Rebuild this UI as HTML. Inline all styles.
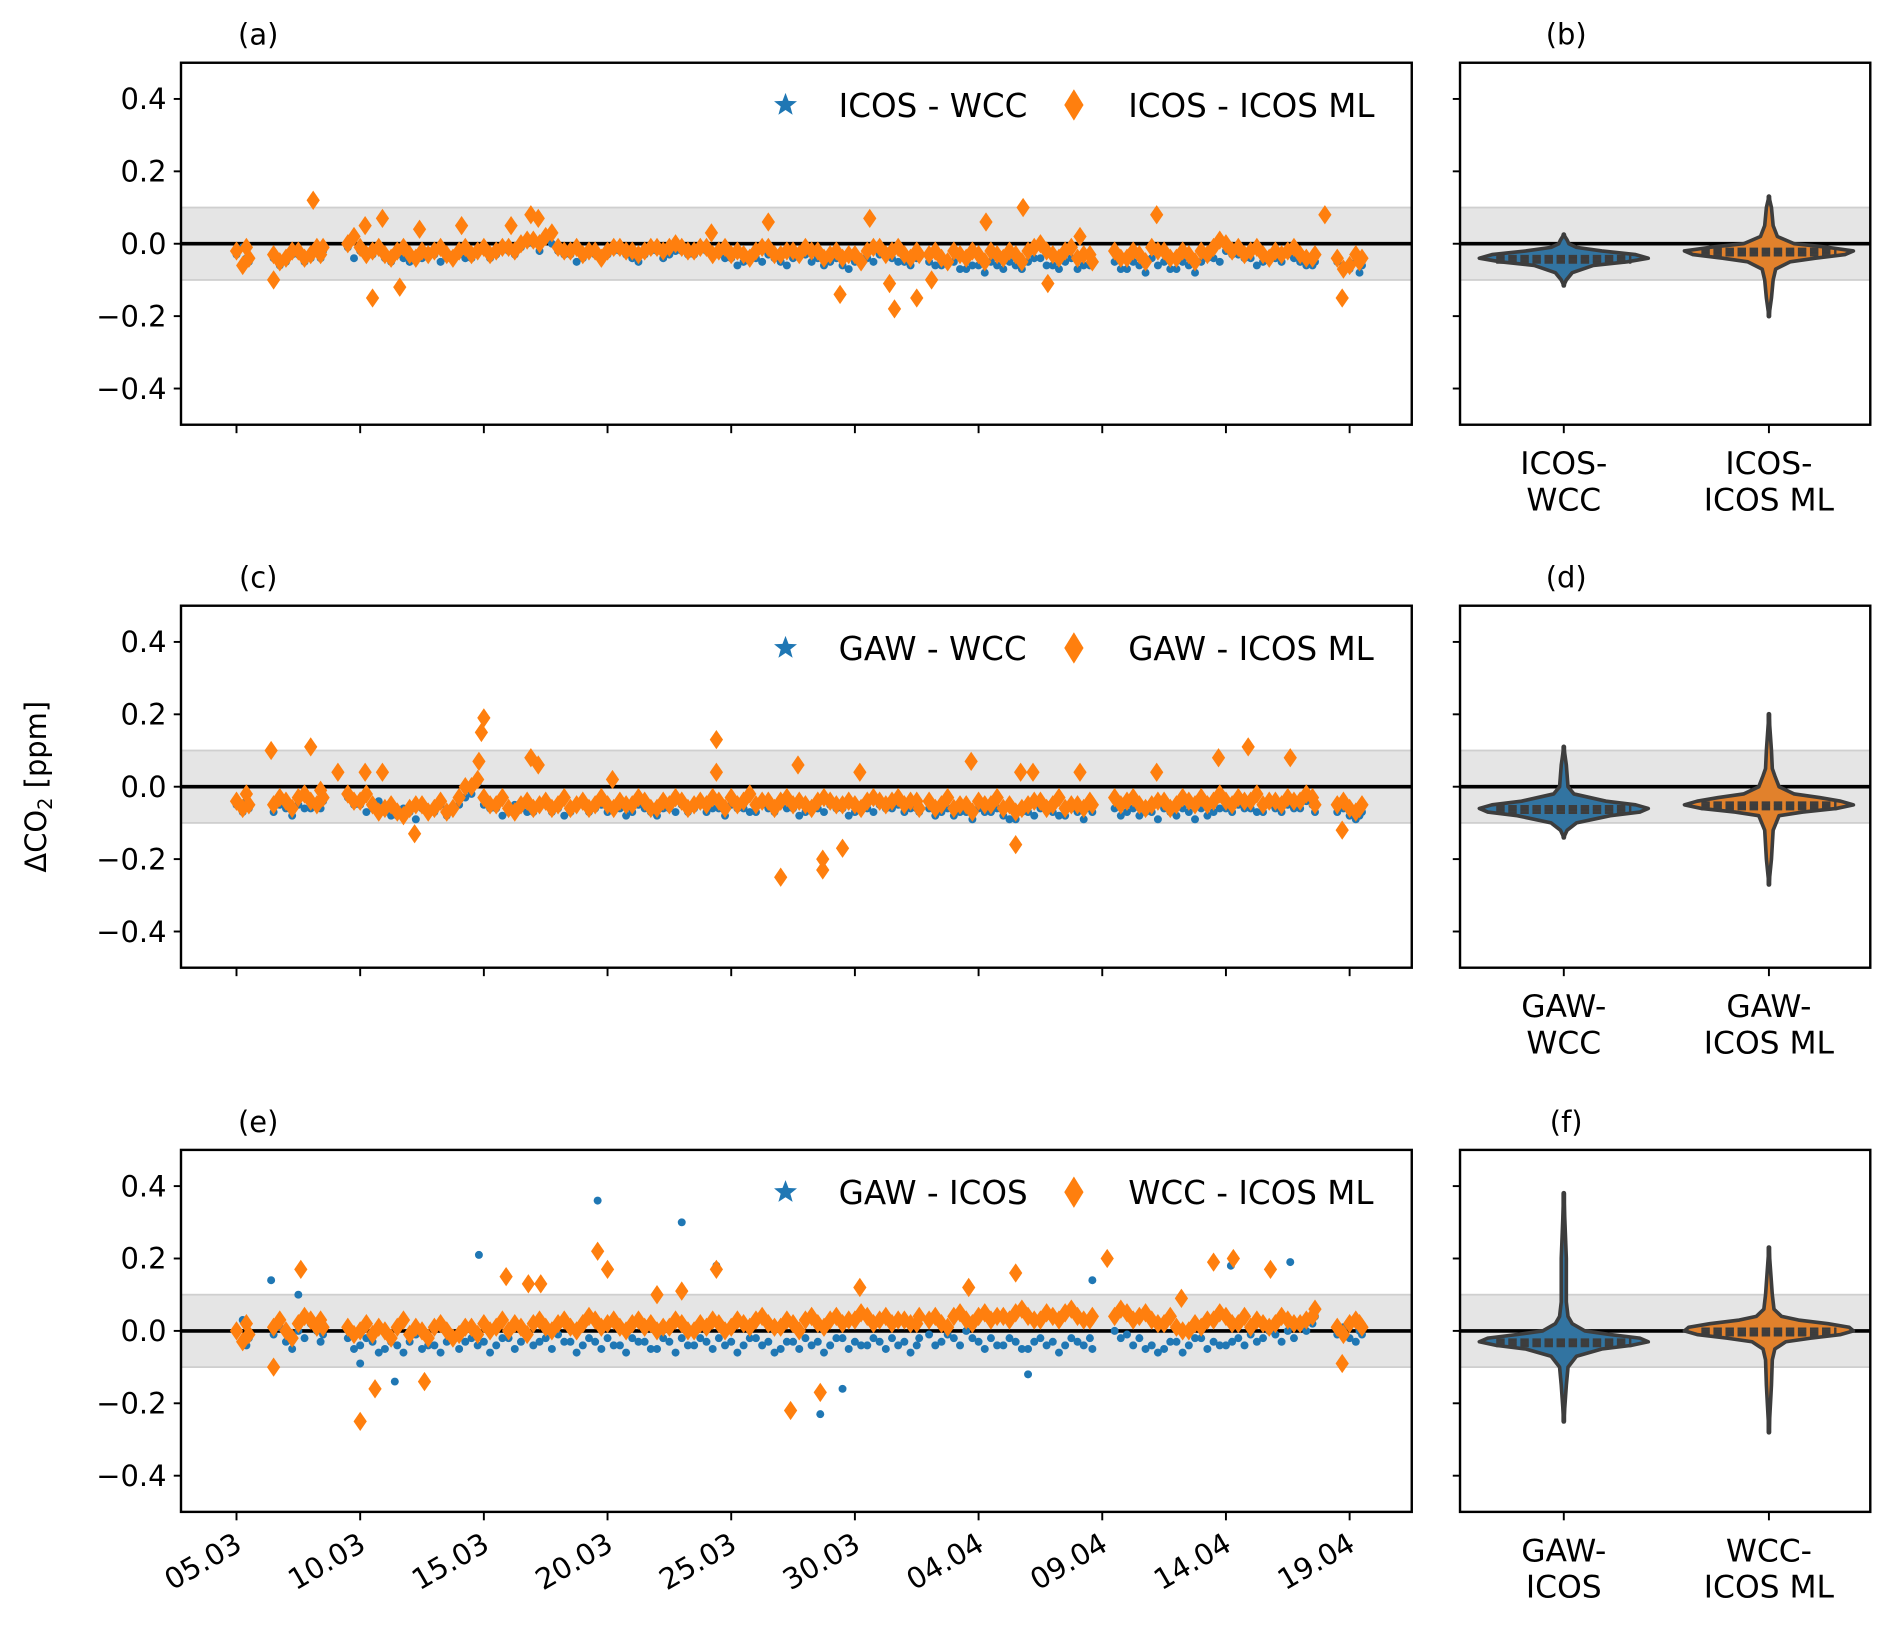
<!DOCTYPE html>
<html><head><meta charset="utf-8"><style>
html,body{margin:0;padding:0;background:#fff}
svg{display:block}
text{font-family:"DejaVu Sans","Liberation Sans",sans-serif;fill:#000}
</style></head><body>
<svg id="chart" width="1892" height="1627" viewBox="0 0 1568 1348.4" preserveAspectRatio="none" xmlns="http://www.w3.org/2000/svg">
<g id="root"></g>
</svg>
<script>
// ---------- data ----------
const times = [0,0.5, 1.5,2,2.5,3,3.5,
4.5,5,5.5,6,6.5,7,7.5,8,8.5,9,9.5,10,10.5,11,11.5,12,12.5,13,13.5,14,14.5,15,15.5,16,16.5,17,17.5,18,18.5,19,19.5,20,20.5,21,21.5,22,22.5,23,23.5,24,24.5,25,25.5,26,26.5,27,27.5,
28,28.5,29,29.5,30,30.5,31,31.5,32,32.5,33,33.5,34,34.5,
35.5,36,36.5,37,37.5,38,38.5,39,39.5,40,40.5,41,41.5,42,42.5,43,43.5,
44.5,45,45.5];
const times2 = [0.25,0.4, 1.75,2.25,2.75,3.25,3.4,
4.75,5.25,5.75,6.25,6.75,7.25,7.75,8.25,8.75,9.25,9.75,10.25,10.75,11.25,11.75,12.25,12.75,13.25,13.75,14.25,14.75,15.25,15.75,16.25,16.75,17.25,17.75,18.25,18.75,19.25,19.75,20.25,20.75,21.25,21.75,22.25,22.75,23.25,23.75,24.25,24.75,25.25,25.75,26.25,26.75,27.25,27.6,
28.25,28.75,29.25,29.75,30.25,30.75,31.25,31.75,32.25,32.75,33.25,33.75,34.25,34.6,
35.75,36.25,36.75,37.25,37.75,38.25,38.75,39.25,39.75,40.25,40.75,41.25,41.75,42.25,42.75,43.25,43.6,
44.75,45.25,45.4];
const aBlue = [-0.03,-0.05, -0.04,-0.05,-0.03,-0.04,-0.02,
-0.01,-0.02,-0.03,-0.04,-0.03,-0.05,-0.04,-0.03,-0.04,-0.03,-0.04,-0.02,-0.03,-0.02,-0.01,0.0,0.01,-0.02,-0.03,-0.04,-0.03,-0.03,-0.02,-0.04,-0.03,-0.02,-0.03,-0.02,-0.03,-0.02,-0.03,-0.04,-0.05,-0.04,-0.03,-0.05,-0.04,-0.03,-0.04,-0.05,-0.06,-0.05,-0.04,-0.03,-0.04,-0.05,-0.04,
-0.05,-0.06,-0.05,-0.07,-0.06,-0.05,-0.07,-0.06,-0.05,-0.04,-0.06,-0.05,-0.07,-0.06,
-0.05,-0.07,-0.06,-0.04,-0.05,-0.07,-0.06,-0.05,-0.04,-0.02,-0.03,-0.04,-0.05,-0.04,-0.03,-0.05,-0.06,
-0.05,-0.07,-0.06];
const aBlue2 = [-0.01,-0.04, -0.06,-0.03,-0.05,-0.02,-0.04,
-0.04,-0.03,-0.01,-0.05,-0.04,-0.03,-0.02,-0.05,-0.03,-0.04,-0.02,-0.04,-0.01,-0.03,0.0,-0.02,0.0,-0.03,-0.05,-0.02,-0.04,-0.02,-0.03,-0.05,-0.02,-0.04,-0.02,-0.03,-0.01,-0.03,-0.04,-0.06,-0.03,-0.05,-0.04,-0.06,-0.03,-0.05,-0.06,-0.04,-0.07,-0.04,-0.05,-0.02,-0.05,-0.06,-0.03,
-0.06,-0.05,-0.07,-0.06,-0.08,-0.06,-0.05,-0.07,-0.04,-0.06,-0.07,-0.04,-0.06,-0.05,
-0.07,-0.05,-0.08,-0.06,-0.07,-0.05,-0.08,-0.04,-0.05,-0.03,-0.04,-0.06,-0.04,-0.05,-0.04,-0.06,-0.05,
-0.06,-0.05,-0.08];
const aOrange = [-0.02,-0.04, -0.03,-0.04,-0.02,-0.03,-0.01,
0.0,-0.01,-0.02,-0.03,-0.02,-0.03,-0.02,-0.02,-0.03,-0.02,-0.03,-0.01,-0.02,-0.01,0.0,0.01,0.02,-0.01,-0.02,-0.03,-0.02,-0.02,-0.01,-0.02,-0.02,-0.01,-0.01,-0.01,-0.02,-0.01,-0.02,-0.03,-0.03,-0.02,-0.01,-0.03,-0.02,-0.01,-0.02,-0.03,-0.04,-0.03,-0.02,-0.01,-0.02,-0.03,-0.02,
-0.03,-0.04,-0.02,-0.04,-0.03,-0.02,-0.04,-0.03,-0.02,0.0,-0.03,-0.02,-0.04,-0.03,
-0.02,-0.04,-0.03,-0.01,-0.02,-0.04,-0.03,-0.02,-0.01,0.0,-0.01,-0.02,-0.03,-0.02,-0.02,-0.03,-0.04,
-0.04,-0.06,-0.04];
const aOrange2 = [-0.06,-0.01, -0.05,-0.02,-0.04,-0.01,-0.03,
0.02,-0.03,-0.01,-0.04,-0.01,-0.04,-0.03,-0.01,-0.04,-0.01,-0.02,-0.03,-0.01,-0.02,0.01,0.0,0.03,-0.02,-0.01,-0.02,-0.04,-0.01,-0.02,-0.03,-0.01,-0.02,0.0,-0.02,-0.01,-0.03,-0.01,-0.02,-0.04,-0.01,-0.03,-0.02,-0.03,-0.02,-0.04,-0.02,-0.03,-0.05,-0.01,-0.03,-0.01,-0.04,-0.03,
-0.02,-0.05,-0.03,-0.02,-0.05,-0.03,-0.02,-0.05,-0.01,-0.02,-0.04,-0.01,-0.03,-0.05,
-0.04,-0.02,-0.05,-0.02,-0.04,-0.02,-0.05,-0.03,0.01,-0.02,-0.03,-0.01,-0.04,-0.03,-0.01,-0.04,-0.03,
-0.07,-0.03,-0.05];
const aOutT = [1.5,3.1,5.2,5.5,5.9,6.6,7.4,9.1,11.1,11.9,12.2,19.2,21.5,24.4,25.6,26.4,26.6,27.5,28.1,30.3,31.8,32.8,34.1,37.2,44.0,44.7];
const aOutV = [-0.1,0.12,0.05,-0.15,0.07,-0.12,0.04,0.05,0.05,0.08,0.07,0.03,0.06,-0.14,0.07,-0.11,-0.18,-0.15,-0.1,0.06,0.1,-0.11,0.02,0.08,0.08,-0.15];

const cBlue = [-0.05,-0.06, -0.07,-0.06,-0.05,-0.06,-0.04,
-0.03,-0.05,-0.06,-0.07,-0.08,-0.07,-0.06,-0.07,-0.08,-0.05,-0.02,-0.05,-0.06,-0.07,-0.06,-0.07,-0.05,-0.06,-0.07,-0.05,-0.06,-0.07,-0.06,-0.07,-0.06,-0.08,-0.06,-0.05,-0.06,-0.07,-0.06,-0.05,-0.06,-0.07,-0.06,-0.05,-0.06,-0.07,-0.06,-0.05,-0.06,-0.07,-0.06,-0.05,-0.06,-0.07,-0.06,
-0.06,-0.07,-0.08,-0.07,-0.06,-0.07,-0.08,-0.09,-0.07,-0.06,-0.07,-0.08,-0.07,-0.06,
-0.06,-0.07,-0.08,-0.07,-0.06,-0.08,-0.07,-0.06,-0.07,-0.06,-0.05,-0.06,-0.07,-0.06,-0.05,-0.06,-0.05,
-0.07,-0.08,-0.07];
const cBlue2 = [-0.07,-0.04, -0.05,-0.08,-0.06,-0.04,-0.06,
-0.05,-0.07,-0.04,-0.08,-0.06,-0.09,-0.07,-0.05,-0.06,-0.03,0.01,-0.06,-0.08,-0.05,-0.07,-0.05,-0.07,-0.08,-0.05,-0.07,-0.05,-0.06,-0.08,-0.05,-0.07,-0.06,-0.07,-0.07,-0.05,-0.06,-0.08,-0.06,-0.07,-0.05,-0.07,-0.06,-0.08,-0.05,-0.07,-0.06,-0.08,-0.05,-0.07,-0.06,-0.05,-0.06,-0.07,
-0.08,-0.06,-0.07,-0.09,-0.07,-0.06,-0.09,-0.07,-0.08,-0.05,-0.08,-0.06,-0.09,-0.07,
-0.08,-0.06,-0.07,-0.09,-0.07,-0.06,-0.09,-0.08,-0.06,-0.07,-0.06,-0.07,-0.05,-0.07,-0.06,-0.04,-0.07,
-0.06,-0.09,-0.08];
const cOrange = [-0.04,-0.05, -0.05,-0.04,-0.03,-0.04,-0.03,
-0.02,-0.04,-0.05,-0.06,-0.07,-0.06,-0.05,-0.06,-0.07,-0.03,0.0,-0.03,-0.05,-0.06,-0.05,-0.06,-0.04,-0.05,-0.06,-0.04,-0.05,-0.05,-0.04,-0.05,-0.04,-0.06,-0.05,-0.04,-0.05,-0.05,-0.04,-0.03,-0.04,-0.05,-0.04,-0.04,-0.05,-0.05,-0.04,-0.04,-0.05,-0.05,-0.04,-0.04,-0.04,-0.05,-0.04,
-0.04,-0.05,-0.06,-0.05,-0.04,-0.05,-0.06,-0.07,-0.05,-0.04,-0.05,-0.06,-0.05,-0.04,
-0.03,-0.04,-0.05,-0.05,-0.04,-0.05,-0.04,-0.03,-0.04,-0.04,-0.03,-0.04,-0.05,-0.04,-0.03,-0.04,-0.03,
-0.05,-0.06,-0.05];
const cOrange2 = [-0.06,-0.02, -0.03,-0.06,-0.02,-0.05,-0.01,
-0.04,-0.02,-0.07,-0.05,-0.08,-0.05,-0.07,-0.04,-0.06,0.0,0.02,-0.05,-0.03,-0.07,-0.04,-0.05,-0.06,-0.03,-0.05,-0.06,-0.03,-0.06,-0.05,-0.03,-0.06,-0.04,-0.03,-0.06,-0.04,-0.03,-0.06,-0.05,-0.02,-0.04,-0.06,-0.03,-0.04,-0.06,-0.03,-0.05,-0.04,-0.06,-0.03,-0.05,-0.03,-0.04,-0.06,
-0.06,-0.03,-0.05,-0.07,-0.05,-0.03,-0.05,-0.06,-0.04,-0.06,-0.03,-0.05,-0.06,-0.05,
-0.05,-0.03,-0.06,-0.04,-0.06,-0.03,-0.05,-0.05,-0.02,-0.05,-0.04,-0.02,-0.04,-0.05,-0.04,-0.02,-0.05,
-0.04,-0.07,-0.06];
const cOutT = [1.4,3.0,4.1,5.2,5.9,7.2,9.8,9.9,10.0,11.9,12.2,15.2,19.4,19.4,22.0,22.7,23.7,23.7,24.5,25.2,29.7,31.5,31.7,32.2,34.1,37.2,39.7,40.9,42.6,44.7];
const cOutV = [0.1,0.11,0.04,0.04,0.04,-0.13,0.07,0.15,0.19,0.08,0.06,0.02,0.13,0.04,-0.25,0.06,-0.23,-0.2,-0.17,0.04,0.07,-0.16,0.04,0.04,0.04,0.04,0.08,0.11,0.08,-0.12];

const eBlue = [0.0,-0.02, -0.01,-0.03,0.0,0.02,-0.01,
-0.02,-0.04,-0.03,-0.05,-0.04,-0.03,-0.05,-0.04,-0.03,-0.05,-0.02,-0.03,-0.04,-0.02,-0.03,-0.04,-0.02,-0.01,-0.03,-0.04,-0.03,-0.02,-0.04,-0.02,-0.03,-0.05,-0.03,-0.02,-0.04,-0.03,-0.02,-0.03,-0.04,-0.02,-0.03,-0.05,-0.03,-0.02,-0.03,-0.04,-0.02,-0.03,-0.04,-0.03,-0.02,-0.03,-0.04,
-0.01,-0.03,-0.02,0.0,-0.03,-0.02,-0.04,-0.03,-0.05,-0.02,-0.03,-0.04,-0.03,-0.02,
0.0,-0.01,-0.02,-0.04,-0.05,-0.03,-0.04,-0.02,-0.03,-0.04,-0.02,-0.01,-0.02,-0.01,0.0,0.01,0.02,
-0.01,-0.02,-0.01];
const eBlue2 = [0.03,-0.04, 0.01,-0.05,-0.02,0.0,-0.03,
-0.05,-0.02,-0.06,-0.03,-0.06,-0.01,-0.04,-0.06,-0.02,-0.03,-0.04,-0.06,-0.02,-0.05,-0.01,-0.03,-0.05,-0.03,-0.06,-0.02,-0.05,-0.04,-0.06,-0.03,-0.05,-0.02,-0.06,-0.04,-0.02,-0.05,-0.04,-0.06,-0.02,-0.04,-0.06,-0.03,-0.05,-0.04,-0.06,-0.02,-0.05,-0.04,-0.02,-0.05,-0.04,-0.06,-0.02,
-0.04,-0.01,-0.04,-0.02,-0.05,-0.04,-0.02,-0.05,-0.03,-0.04,-0.06,-0.02,-0.04,-0.05,
-0.02,-0.04,-0.05,-0.06,-0.03,-0.06,-0.02,-0.05,-0.04,-0.03,-0.04,-0.03,0.0,-0.03,-0.02,0.0,0.04,
0.01,-0.03,0.0];
const eOrange = [0.0,-0.01, 0.01,0.0,0.02,0.03,0.01,
0.01,0.0,-0.01,0.0,0.01,-0.01,0.0,0.01,0.0,-0.01,0.01,0.02,0.01,0.0,0.01,0.02,0.01,0.02,0.01,0.02,0.03,0.02,0.01,0.02,0.01,0.0,0.01,0.02,0.0,0.01,0.02,0.01,0.02,0.03,0.02,0.01,0.02,0.03,0.02,0.03,0.02,0.03,0.04,0.03,0.02,0.03,0.02,
0.03,0.02,0.04,0.03,0.04,0.03,0.04,0.05,0.04,0.03,0.04,0.05,0.04,0.03,
0.04,0.05,0.04,0.03,0.02,0.01,0.0,0.01,0.03,0.04,0.02,0.01,0.02,0.02,0.03,0.02,0.04,
0.01,0.02,0.01];
const eOrange2 = [-0.03,0.02, 0.03,-0.02,0.04,0.01,0.03,
-0.01,0.02,0.01,-0.02,0.03,0.01,-0.02,0.02,-0.02,0.01,-0.01,0.0,0.03,0.02,-0.01,0.03,0.0,0.03,0.0,0.04,0.01,0.03,0.0,0.03,0.02,0.01,0.03,0.0,0.02,0.03,0.0,0.03,0.01,0.04,0.01,0.03,0.0,0.04,0.01,0.04,0.03,0.05,0.02,0.04,0.03,0.02,0.04,
0.04,0.01,0.05,0.02,0.05,0.04,0.03,0.06,0.03,0.05,0.03,0.06,0.03,0.04,
0.06,0.03,0.05,0.02,0.04,0.0,0.02,0.03,0.05,0.02,0.04,0.03,0.01,0.04,0.02,0.03,0.06,
-0.01,0.03,0.02];
const eBOutT = [1.4,2.5,5.0,6.4,9.8,14.6,18.0,19.4,22.4,23.6,24.5,32.0,34.6,40.2,42.6];
const eBOutV = [0.14,0.1,-0.09,-0.14,0.21,0.36,0.3,0.18,-0.22,-0.23,-0.16,-0.12,0.14,0.18,0.19];
const eOOutT = [1.5,2.6,5.0,5.6,7.6,10.9,11.8,12.3,14.6,15.0,17.0,18.0,19.4,22.4,23.6,25.2,29.6,31.5,35.2,38.2,39.5,40.3,41.8,44.7];
const eOOutV = [-0.1,0.17,-0.25,-0.16,-0.14,0.15,0.13,0.13,0.22,0.17,0.1,0.11,0.17,-0.22,-0.17,0.12,0.12,0.16,0.2,0.09,0.19,0.2,0.17,-0.09];

const xTickDays = [0,5,10,15,20,25,30,35,40,45];
const xTickLabels = ["05.03","10.03","15.03","20.03","25.03","30.03","04.04","09.04","14.04","19.04"];
const yTicks = [-0.4,-0.2,0.0,0.2,0.4];
const yTickLabels = ["\u22120.4","\u22120.2","0.0","0.2","0.4"];

const vbBlueY = [-0.115,-0.1,-0.08,-0.06,-0.05,-0.04,-0.03,-0.02,-0.01,0,0.01,0.025];
const vbBlueD = [0,0.03,0.1,0.35,0.75,1,0.85,0.45,0.15,0.06,0.04,0];
const vbOrY = [-0.2,-0.15,-0.1,-0.07,-0.05,-0.04,-0.03,-0.02,-0.01,0,0.02,0.05,0.1,0.13];
const vbOrD = [0,0.03,0.05,0.08,0.25,0.55,0.9,1,0.7,0.3,0.1,0.05,0.03,0];
const vdBlueY = [-0.14,-0.12,-0.1,-0.08,-0.07,-0.06,-0.05,-0.04,-0.02,0,0.03,0.06,0.11];
const vdBlueD = [0,0.04,0.15,0.55,0.9,1,0.85,0.5,0.12,0.05,0.04,0.03,0];
const vdOrY = [-0.27,-0.2,-0.12,-0.08,-0.07,-0.06,-0.05,-0.04,-0.03,-0.02,0,0.03,0.05,0.1,0.2];
const vdOrD = [0,0.03,0.05,0.12,0.4,0.8,1,0.85,0.6,0.3,0.12,0.07,0.04,0.03,0];
const vfBlueY = [-0.25,-0.15,-0.1,-0.07,-0.05,-0.04,-0.03,-0.02,-0.01,0,0.02,0.04,0.08,0.2,0.38];
const vfBlueD = [0,0.03,0.05,0.15,0.45,0.8,1,0.9,0.55,0.25,0.1,0.05,0.03,0.03,0];
const vfOrY = [-0.28,-0.15,-0.08,-0.05,-0.03,-0.02,-0.01,0,0.01,0.02,0.03,0.04,0.06,0.1,0.23];
const vfOrD = [0,0.03,0.04,0.07,0.2,0.5,0.85,1,0.95,0.7,0.35,0.15,0.06,0.04,0];

// ---------- helpers ----------
const NS = "http://www.w3.org/2000/svg";
const root = document.getElementById("root");
function mk(tag, attrs, parent, txt){
  const e = document.createElementNS(NS, tag);
  for (const k in attrs) e.setAttribute(k, attrs[k]);
  if (txt !== undefined) e.textContent = txt;
  (parent || root).appendChild(e);
  return e;
}
const BLUE = "#1f77b4", ORANGE = "#ff7f0e";
const X0 = 150, X1 = 1170, RX0 = 1210, RX1 = 1550;
const DAY0X = 196, PXDAY = 20.5;
function xScale(d){ return DAY0X + d * PXDAY; }
function makeY(top){ return v => top + 150 - v * 300; }

const panels = [
 {top:52, lab:["(a)","(b)"], leg:["ICOS - WCC","ICOS - ICOS ML"], b:aBlue, b2:aBlue2, o:aOrange, o2:aOrange2, bOT:[], bOV:[], oOT:aOutT, oOV:aOutV,
  vb:[vbBlueY,vbBlueD], vo:[vbOrY,vbOrD], cat:[["ICOS-","WCC"],["ICOS-","ICOS ML"]], key:"ab"},
 {top:502, lab:["(c)","(d)"], leg:["GAW - WCC","GAW - ICOS ML"], b:cBlue, b2:cBlue2, o:cOrange, o2:cOrange2, bOT:[], bOV:[], oOT:cOutT, oOV:cOutV,
  vb:[vdBlueY,vdBlueD], vo:[vdOrY,vdOrD], cat:[["GAW-","WCC"],["GAW-","ICOS ML"]], key:"cd"},
 {top:953, lab:["(e)","(f)"], leg:["GAW - ICOS","WCC - ICOS ML"], b:eBlue, b2:eBlue2, o:eOrange, o2:eOrange2, bOT:eBOutT, bOV:eBOutV, oOT:eOOutT, oOV:eOOutV,
  vb:[vfBlueY,vfBlueD], vo:[vfOrY,vfOrD], cat:[["GAW-","ICOS"],["WCC-","ICOS ML"]], key:"ef"}
];

function diamond(g, x, y){
  const p = mk("path", {d:`M${x},${y-8}L${x+5.5},${y}L${x},${y+8}L${x-5.5},${y}Z`, fill:ORANGE}, g);
  
  
}
function dot(g, x, y){
  const c = mk("circle", {cx:x, cy:y, r:3.3, fill:BLUE}, g);
  
  
}
function star(g, cx, cy, r){
  let d = "";
  for (let i=0;i<10;i++){
    const a = -Math.PI/2 + i*Math.PI/5, rr = i%2 ? r*0.42 : r;
    d += (i?"L":"M") + (cx + rr*Math.cos(a)).toFixed(1) + "," + (cy + rr*Math.sin(a)).toFixed(1);
  }
  return mk("path", {d:d+"Z", fill:BLUE}, g);
}

function drawViolin(g, cx, yS, ys, ds, fill, name){
  const W = 70;
  let right = [], left = [];
  for (let i=0;i<ys.length;i++){
    right.push((cx + ds[i]*W).toFixed(1) + "," + yS(ys[i]).toFixed(1));
    left.unshift((cx - ds[i]*W).toFixed(1) + "," + yS(ys[i]).toFixed(1));
  }
  const vg = mk("g", {}, g);
  
  
  mk("line", {x1:cx, x2:cx, y1:yS(ys[0]), y2:yS(ys[ys.length-1]), stroke:"#3d3d3d", "stroke-width":4, "stroke-linecap":"round"}, vg);
  mk("path", {d:"M"+right.join("L")+"L"+left.join("L")+"Z", fill:fill, stroke:"#3d3d3d", "stroke-width":3, "stroke-linejoin":"round"}, vg);
  let peak = 0; for (let i=1;i<ds.length;i++) if (ds[i]>ds[peak]) peak=i;
  const pv = ys[peak];
  const offs = [-0.012,-0.006,0,0.006];
  offs.forEach(o=>{
    const y = yS(pv+o);
    mk("line", {x1:cx-W*0.8, x2:cx+W*0.8, y1:y, y2:y, stroke:"#3d3d3d", "stroke-width":2, "stroke-dasharray":"7,3"}, vg);
  });
}

panels.forEach((P, pi)=>{
  const yS = makeY(P.top);
  const bot = P.top + 300;
  const g = mk("g", {});
  
  
  const band = mk("rect", {x:X0, y:yS(0.1), width:X1-X0, height:yS(-0.1)-yS(0.1), fill:"#e5e5e5", stroke:"#cfcfcf", "stroke-width":1.5}, g);
  
  
  const zl = mk("line", {x1:X0, x2:X1, y1:yS(0), y2:yS(0), stroke:"#000", "stroke-width":3}, g);
  
  
  for (let i=0;i<times.length;i++) if (P.b[i]!==undefined) dot(g, xScale(times[i]), yS(P.b[i]));
  for (let i=0;i<times2.length;i++) if (P.b2[i]!==undefined) dot(g, xScale(times2[i]), yS(P.b2[i]));
  for (let i=0;i<P.bOT.length;i++) dot(g, xScale(P.bOT[i]), yS(P.bOV[i]));
  for (let i=0;i<times.length;i++) if (P.o[i]!==undefined) diamond(g, xScale(times[i]), yS(P.o[i]));
  for (let i=0;i<times2.length;i++) if (P.o2[i]!==undefined) diamond(g, xScale(times2[i]), yS(P.o2[i]));
  for (let i=0;i<P.oOT.length;i++) diamond(g, xScale(P.oOT[i]), yS(P.oOV[i]));
  const fr = mk("rect", {x:X0, y:P.top, width:X1-X0, height:300, fill:"none", stroke:"#000", "stroke-width":2}, g);
  
  
  yTicks.forEach((v,i)=>{
    mk("line", {x1:X0-6, x2:X0, y1:yS(v), y2:yS(v), stroke:"#000", "stroke-width":1.6}, g);
    const t = mk("text", {x:X0-12, y:yS(v)+8.5, "text-anchor":"end", "font-size":24}, g, yTickLabels[i]);
    
    
  });
  xTickDays.forEach((d,i)=>{
    const x = xScale(d);
    mk("line", {x1:x, x2:x, y1:bot, y2:bot+7, stroke:"#000", "stroke-width":1.6}, g);
    if (pi === 2){
      const t = mk("text", {x:x+6, y:bot+31, "text-anchor":"end", "font-size":24, transform:`rotate(-30 ${x+6} ${bot+31})`}, g, xTickLabels[i]);
      
      
    }
  });
  const ttl = mk("text", {x:214, y:P.top-15, "text-anchor":"middle", "font-size":24}, g, P.lab[0]);
  
  
  const lg = mk("g", {}, g);
  
  
  const ly = P.top + 35;
  star(lg, 651, ly, 10);
  mk("text", {x:695, y:ly+10, "font-size":27}, lg, P.leg[0]);
  mk("path", {d:`M890,${ly-13}L898,${ly}L890,${ly+13}L882,${ly}Z`, fill:ORANGE}, lg);
  mk("text", {x:935, y:ly+10, "font-size":27}, lg, P.leg[1]);

  const rg = mk("g", {});
  
  
  mk("rect", {x:RX0, y:yS(0.1), width:RX1-RX0, height:yS(-0.1)-yS(0.1), fill:"#e5e5e5", stroke:"#cfcfcf", "stroke-width":1.5}, rg);
  mk("line", {x1:RX0, x2:RX1, y1:yS(0), y2:yS(0), stroke:"#000", "stroke-width":3}, rg);
  drawViolin(rg, 1296, yS, P.vb[0], P.vb[1], "#3274a1", "violin-blue");
  drawViolin(rg, 1466, yS, P.vo[0], P.vo[1], "#e1812c", "violin-orange");
  mk("rect", {x:RX0, y:P.top, width:RX1-RX0, height:300, fill:"none", stroke:"#000", "stroke-width":2}, rg);
  yTicks.forEach(v=>mk("line", {x1:RX0-6, x2:RX0, y1:yS(v), y2:yS(v), stroke:"#000", "stroke-width":1.6}, rg));
  [1296,1466].forEach((cx,ci)=>{
    mk("line", {x1:cx, x2:cx, y1:bot, y2:bot+7, stroke:"#000", "stroke-width":1.6}, rg);
    const t = mk("text", {x:cx, y:bot+41, "text-anchor":"middle", "font-size":26}, rg);
    
    
    mk("tspan", {x:cx, dy:0}, t, P.cat[ci][0]);
    mk("tspan", {x:cx, dy:30}, t, P.cat[ci][1]);
  });
  const rt = mk("text", {x:1298, y:P.top-15, "text-anchor":"middle", "font-size":24}, rg, P.lab[1]);
  
  
});

const yl = mk("text", {x:38, y:652, "text-anchor":"middle", "font-size":24, transform:"rotate(-90 38 652)"});


mk("tspan", {}, yl, "\u0394CO");
mk("tspan", {"font-size":16, dy:5}, yl, "2");
mk("tspan", {dy:-5}, yl, " [ppm]");
</script>
</body></html>
